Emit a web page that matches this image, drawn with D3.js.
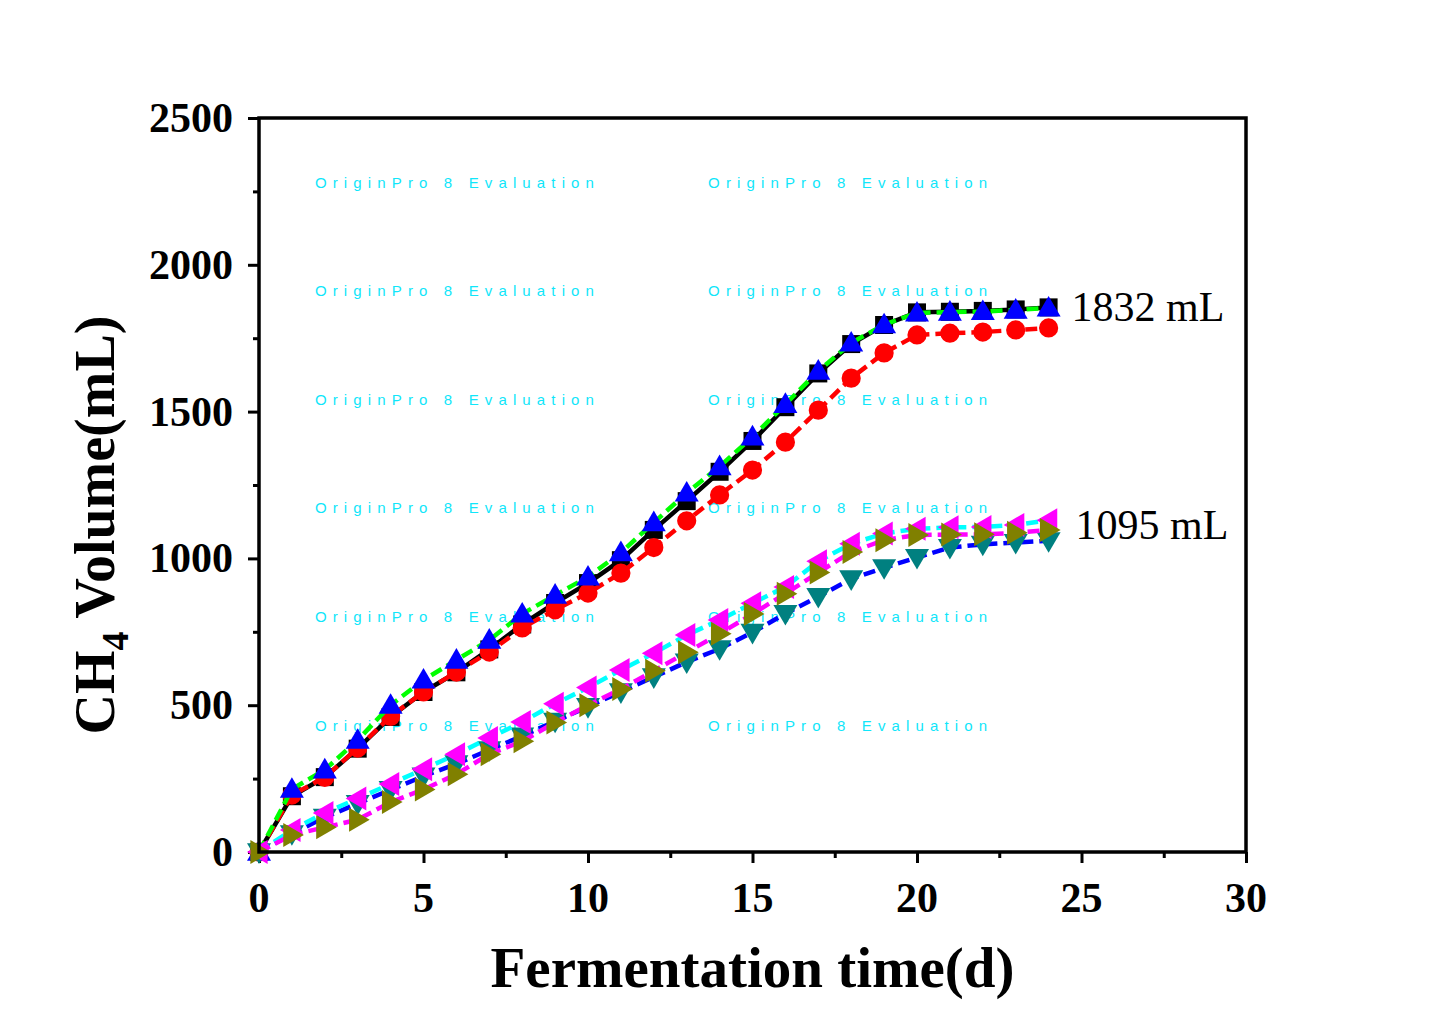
<!DOCTYPE html>
<html><head><meta charset="utf-8">
<script src="https://cdn.jsdelivr.net/npm/d3@7"></script>
<style>body{margin:0;background:#fff}svg{display:block}</style>
</head><body>
<svg id="c" width="1448" height="1023"></svg>
<script>
const days = d3.range(0, 25);
const blackSq   = [0,190,255,352,460,545,612,690,775,848,916,994,1097,1195,1295,1400,1515,1630,1730,1795,1838,1840,1843,1848,1855];
const redCirc   = [0,194,254,354,462,545,613,681,763,825,882,950,1037,1128,1216,1301,1396,1505,1614,1700,1761,1767,1771,1778,1785];
const blueTri   = [0,214,280,381,500,586,654,722,811,875,937,1020,1122,1223,1313,1414,1525,1638,1734,1796,1836,1839,1841,1846,1853];
const tealDown  = [0,62,118,165,212,258,300,348,395,445,495,545,596,647,692,748,812,870,930,968,1003,1037,1048,1054,1060];
const magLeft   = [0,75,133,182,232,282,333,388,443,505,560,620,677,739,790,847,903,990,1050,1085,1101,1106,1107,1114,1130];
const oliveRight= [0,58,84,110,170,213,265,333,377,441,500,555,617,680,743,811,880,952,1022,1062,1080,1081,1082,1087,1097];
const xTicks = [0,5,10,15,20,25,30];
const yTicks = [0,500,1000,1500,2000,2500];
const annotations = [{text:"1832 mL", x:24, y:1832, dx:23, dy:-8}, {text:"1095 mL", x:24, y:1095, dx:27, dy:-7}];
const watermark = "OriginPro 8 Evaluation";
const wmRows = [2280, 1910, 1540, 1170, 800, 430];
const wmCols = [1.7, 13.65];

const series = [
  {v: blackSq,   line:"#000000", dash:null,   sym:"square", fill:"#000000"},
  {v: redCirc,   line:"#ff0000", dash:"12,6", sym:"circle", fill:"#ff0000"},
  {v: blueTri,   line:"#00ff00", dash:"12,6", sym:"up",     fill:"#0000ff"},
  {v: tealDown,  line:"#0000ff", dash:"12,6", sym:"down",   fill:"#008080"},
  {v: magLeft,   line:"#00ffff", dash:"12,6", sym:"left",   fill:"#ff00ff"},
  {v: oliveRight,line:"#ff00ff", dash:"12,6", sym:"right",  fill:"#808000"}
];

const L = 259, R = 1246, T = 118, B = 852;
const x = d3.scaleLinear().domain([0,30]).range([L,R]);
const y = d3.scaleLinear().domain([0,2500]).range([B,T]);
const svg = d3.select("#c");

// watermark
const wm = svg.append("g");
wmRows.forEach(r => wmCols.forEach(c => {
  wm.append("text").attr("x", x(c)).attr("y", y(r)+5)
    .attr("font-family","Liberation Sans, Arial, sans-serif").attr("font-size",15)
    .attr("fill","#10e6fa").attr("textLength",279).attr("lengthAdjust","spacing")
    .text(watermark);
}));

// axes ticks
const xAxis = d3.axisBottom(x).tickValues(xTicks).tickSize(11).tickFormat("");
const yAxis = d3.axisLeft(y).tickValues(yTicks).tickSize(11).tickFormat("");
const xMinor = d3.axisBottom(x).tickValues(d3.range(2.5,30,5)).tickSize(6).tickFormat("");
const yMinor = d3.axisLeft(y).tickValues(d3.range(250,2500,500)).tickSize(6).tickFormat("");
[[xAxis,`translate(0,${B})`],[xMinor,`translate(0,${B})`],[yAxis,`translate(${L},0)`],[yMinor,`translate(${L},0)`]].forEach(([a,t])=>{
  const g = svg.append("g").attr("transform",t).call(a);
  g.select(".domain").remove();
  g.selectAll("line").attr("stroke","#000").attr("stroke-width",3);
});

// tick labels
svg.append("g").selectAll("text").data(xTicks).join("text")
  .attr("x", d=>x(d)).attr("y", B+60).attr("text-anchor","middle")
  .attr("font-family","Liberation Serif, Times New Roman, serif").attr("font-weight","bold").attr("font-size",42)
  .text(d=>d);
svg.append("g").selectAll("text").data(yTicks).join("text")
  .attr("x", L-26).attr("y", d=>y(d)+14).attr("text-anchor","end")
  .attr("font-family","Liberation Serif, Times New Roman, serif").attr("font-weight","bold").attr("font-size",42)
  .text(d=>d);

// axis titles
svg.append("text").attr("x",(L+R)/2).attr("y",987).attr("text-anchor","middle")
  .attr("font-family","Liberation Serif, Times New Roman, serif").attr("font-weight","bold").attr("font-size",57)
  .text("Fermentation time(d)");
const yt = svg.append("text").attr("transform","translate(114,525) rotate(-90)").attr("text-anchor","middle")
  .attr("font-family","Liberation Serif, Times New Roman, serif").attr("font-weight","bold").attr("font-size",56);
yt.append("tspan").text("CH");
yt.append("tspan").attr("font-size",38).attr("dy",14).text("4");
yt.append("tspan").attr("dy",-14).text(" Volume(mL)");

// data
const lineGen = v => d3.line().x((d,i)=>x(days[i])).y(d=>y(d))(v);
function symPath(sym){
  const s = 12;
  switch(sym){
    case "square": return `M-9,-9H9V9H-9Z`;
    case "circle": return d3.symbol(d3.symbolCircle, 290)();
    case "up": return `M0,${-s}L${s},${s*0.72}L${-s},${s*0.72}Z`;
    case "down": return `M0,${s}L${s},${-s*0.72}L${-s},${-s*0.72}Z`;
    case "left": return `M${-s},0L${s*0.72},${-s}L${s*0.72},${s}Z`;
    case "right": return `M${s},0L${-s*0.72},${-s}L${-s*0.72},${s}Z`;
  }
}
const dg = svg.append("g");
series.forEach(s => {
  dg.append("path").attr("d", lineGen(s.v)).attr("fill","none").attr("stroke",s.line)
    .attr("stroke-width",4.5).attr("stroke-dasharray",s.dash).attr("stroke-linecap","butt");
  dg.append("g").selectAll("path").data(s.v).join("path")
    .attr("transform",(d,i)=>`translate(${x(days[i])},${y(d)})`)
    .attr("d", symPath(s.sym)).attr("fill",s.fill);
});

// frame
svg.append("rect").attr("x",L).attr("y",T).attr("width",R-L).attr("height",B-T)
  .attr("fill","none").attr("stroke","#000").attr("stroke-width",3.5);

// annotations
svg.append("g").selectAll("text").data(annotations).join("text")
  .attr("x", d=>x(d.x)+d.dx).attr("y", d=>y(d.y)+15+d.dy)
  .attr("font-family","Liberation Serif, Times New Roman, serif").attr("font-size",42)
  .text(d=>d.text);
</script>
</body></html>
